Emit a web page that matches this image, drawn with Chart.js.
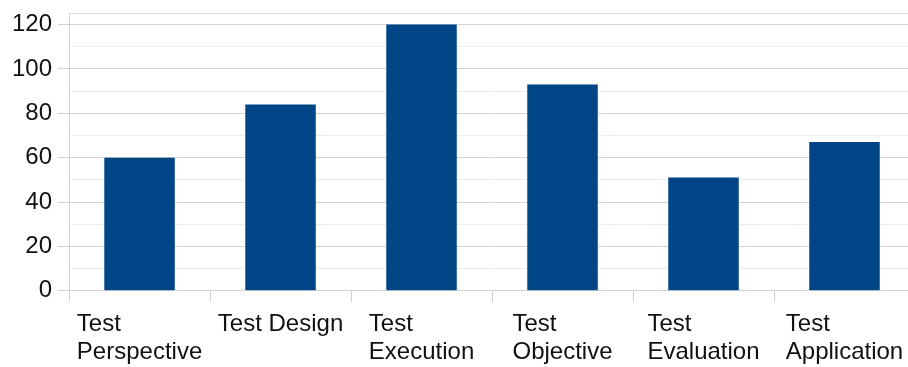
<!DOCTYPE html>
<html>
<head>
<meta charset="utf-8">
<script src="https://cdn.jsdelivr.net/npm/chart.js@4/dist/chart.umd.min.js"></script>
<style>
  html, body { margin: 0; padding: 0; background: #fff; overflow: hidden; }
  #wrap { width: 920px; height: 367px; overflow: hidden; }
  #bar-chart { display: block; margin-top: -7px; }
</style>
</head>
<body>
<div id="wrap"><canvas id="bar-chart" width="920" height="374"></canvas></div>
<script>
// test activity counts
var categories = [
  ['Test', 'Perspective'],
  ['Test Design'],
  ['Test', 'Execution'],
  ['Test', 'Objective'],
  ['Test', 'Evaluation'],
  ['Test', 'Application']
];
var counts = [60, 84, 120, 93, 51, 67];
var yTicks = [0, 20, 40, 60, 80, 100, 120];
var yMax = 125;

var FONT = '"Liberation Sans", Arial, sans-serif';
var FONT_SIZE = 24;

// category labels: each block centred on its bar, lines left aligned inside the block
var leftBlockLabels = {
  id: 'leftBlockLabels',
  afterDraw: function(chart) {
    var ctx = chart.ctx;
    var x = chart.scales.x;
    var lineH = 28;
    ctx.save();
    ctx.font = FONT_SIZE + 'px ' + FONT;
    ctx.fillStyle = '#111';
    ctx.textAlign = 'left';
    ctx.textBaseline = 'top';
    categories.forEach(function(lines, i) {
      var w = 0;
      lines.forEach(function(l) { w = Math.max(w, ctx.measureText(l).width); });
      var cx = x.getPixelForValue(i);
      lines.forEach(function(l, j) {
        ctx.fillText(l, cx - w / 2, x.top + 22 + j * lineH);
      });
    });
    ctx.restore();
  }
};

new Chart(document.getElementById('bar-chart'), {
  type: 'bar',
  data: {
    labels: categories,
    datasets: [{
      data: counts,
      backgroundColor: '#004586',
      borderWidth: 0,
      barPercentage: 0.5,
      categoryPercentage: 1.0
    }]
  },
  options: {
    responsive: false,
    animation: false,
    events: [],
    layout: { padding: { left: 6, right: 5, top: 0, bottom: 0 } },
    plugins: { legend: { display: false }, tooltip: { enabled: false } },
    scales: {
      x: {
        offset: true,
        grid: {
          offset: true,
          drawOnChartArea: false,
          drawTicks: true,
          tickLength: 11,
          color: '#d0d0d0'
        },
        border: { display: false },
        ticks: {
          color: 'transparent',
          font: { family: FONT, size: FONT_SIZE - 1 },
          maxRotation: 0,
          autoSkip: false,
          padding: 5
        }
      },
      y: {
        min: 0,
        max: yMax,
        // minor line every 10, labelled line every 20, plus the top edge
        afterBuildTicks: function(scale) {
          var t = [];
          for (var v = 0; v <= yTicks[yTicks.length - 1]; v += 10) t.push({ value: v });
          t.push({ value: yMax });
          scale.ticks = t;
        },
        grid: {
          color: function(c) {
            var v = c.tick.value;
            if (v === yMax) return '#dcdcdc';
            return yTicks.indexOf(v) >= 0 ? '#d2d2d2' : '#ececec';
          },
          tickColor: function(c) {
            return yTicks.indexOf(c.tick.value) >= 0 ? '#d2d2d2' : 'transparent';
          },
          tickLength: 11
        },
        border: { display: true, color: '#d2d2d2' },
        ticks: {
          autoSkip: false,
          padding: 6,
          color: '#111',
          font: { family: FONT, size: FONT_SIZE },
          callback: function(v) { return yTicks.indexOf(v) >= 0 ? v : ''; }
        }
      }
    }
  },
  plugins: [leftBlockLabels]
});
</script>
</body>
</html>
